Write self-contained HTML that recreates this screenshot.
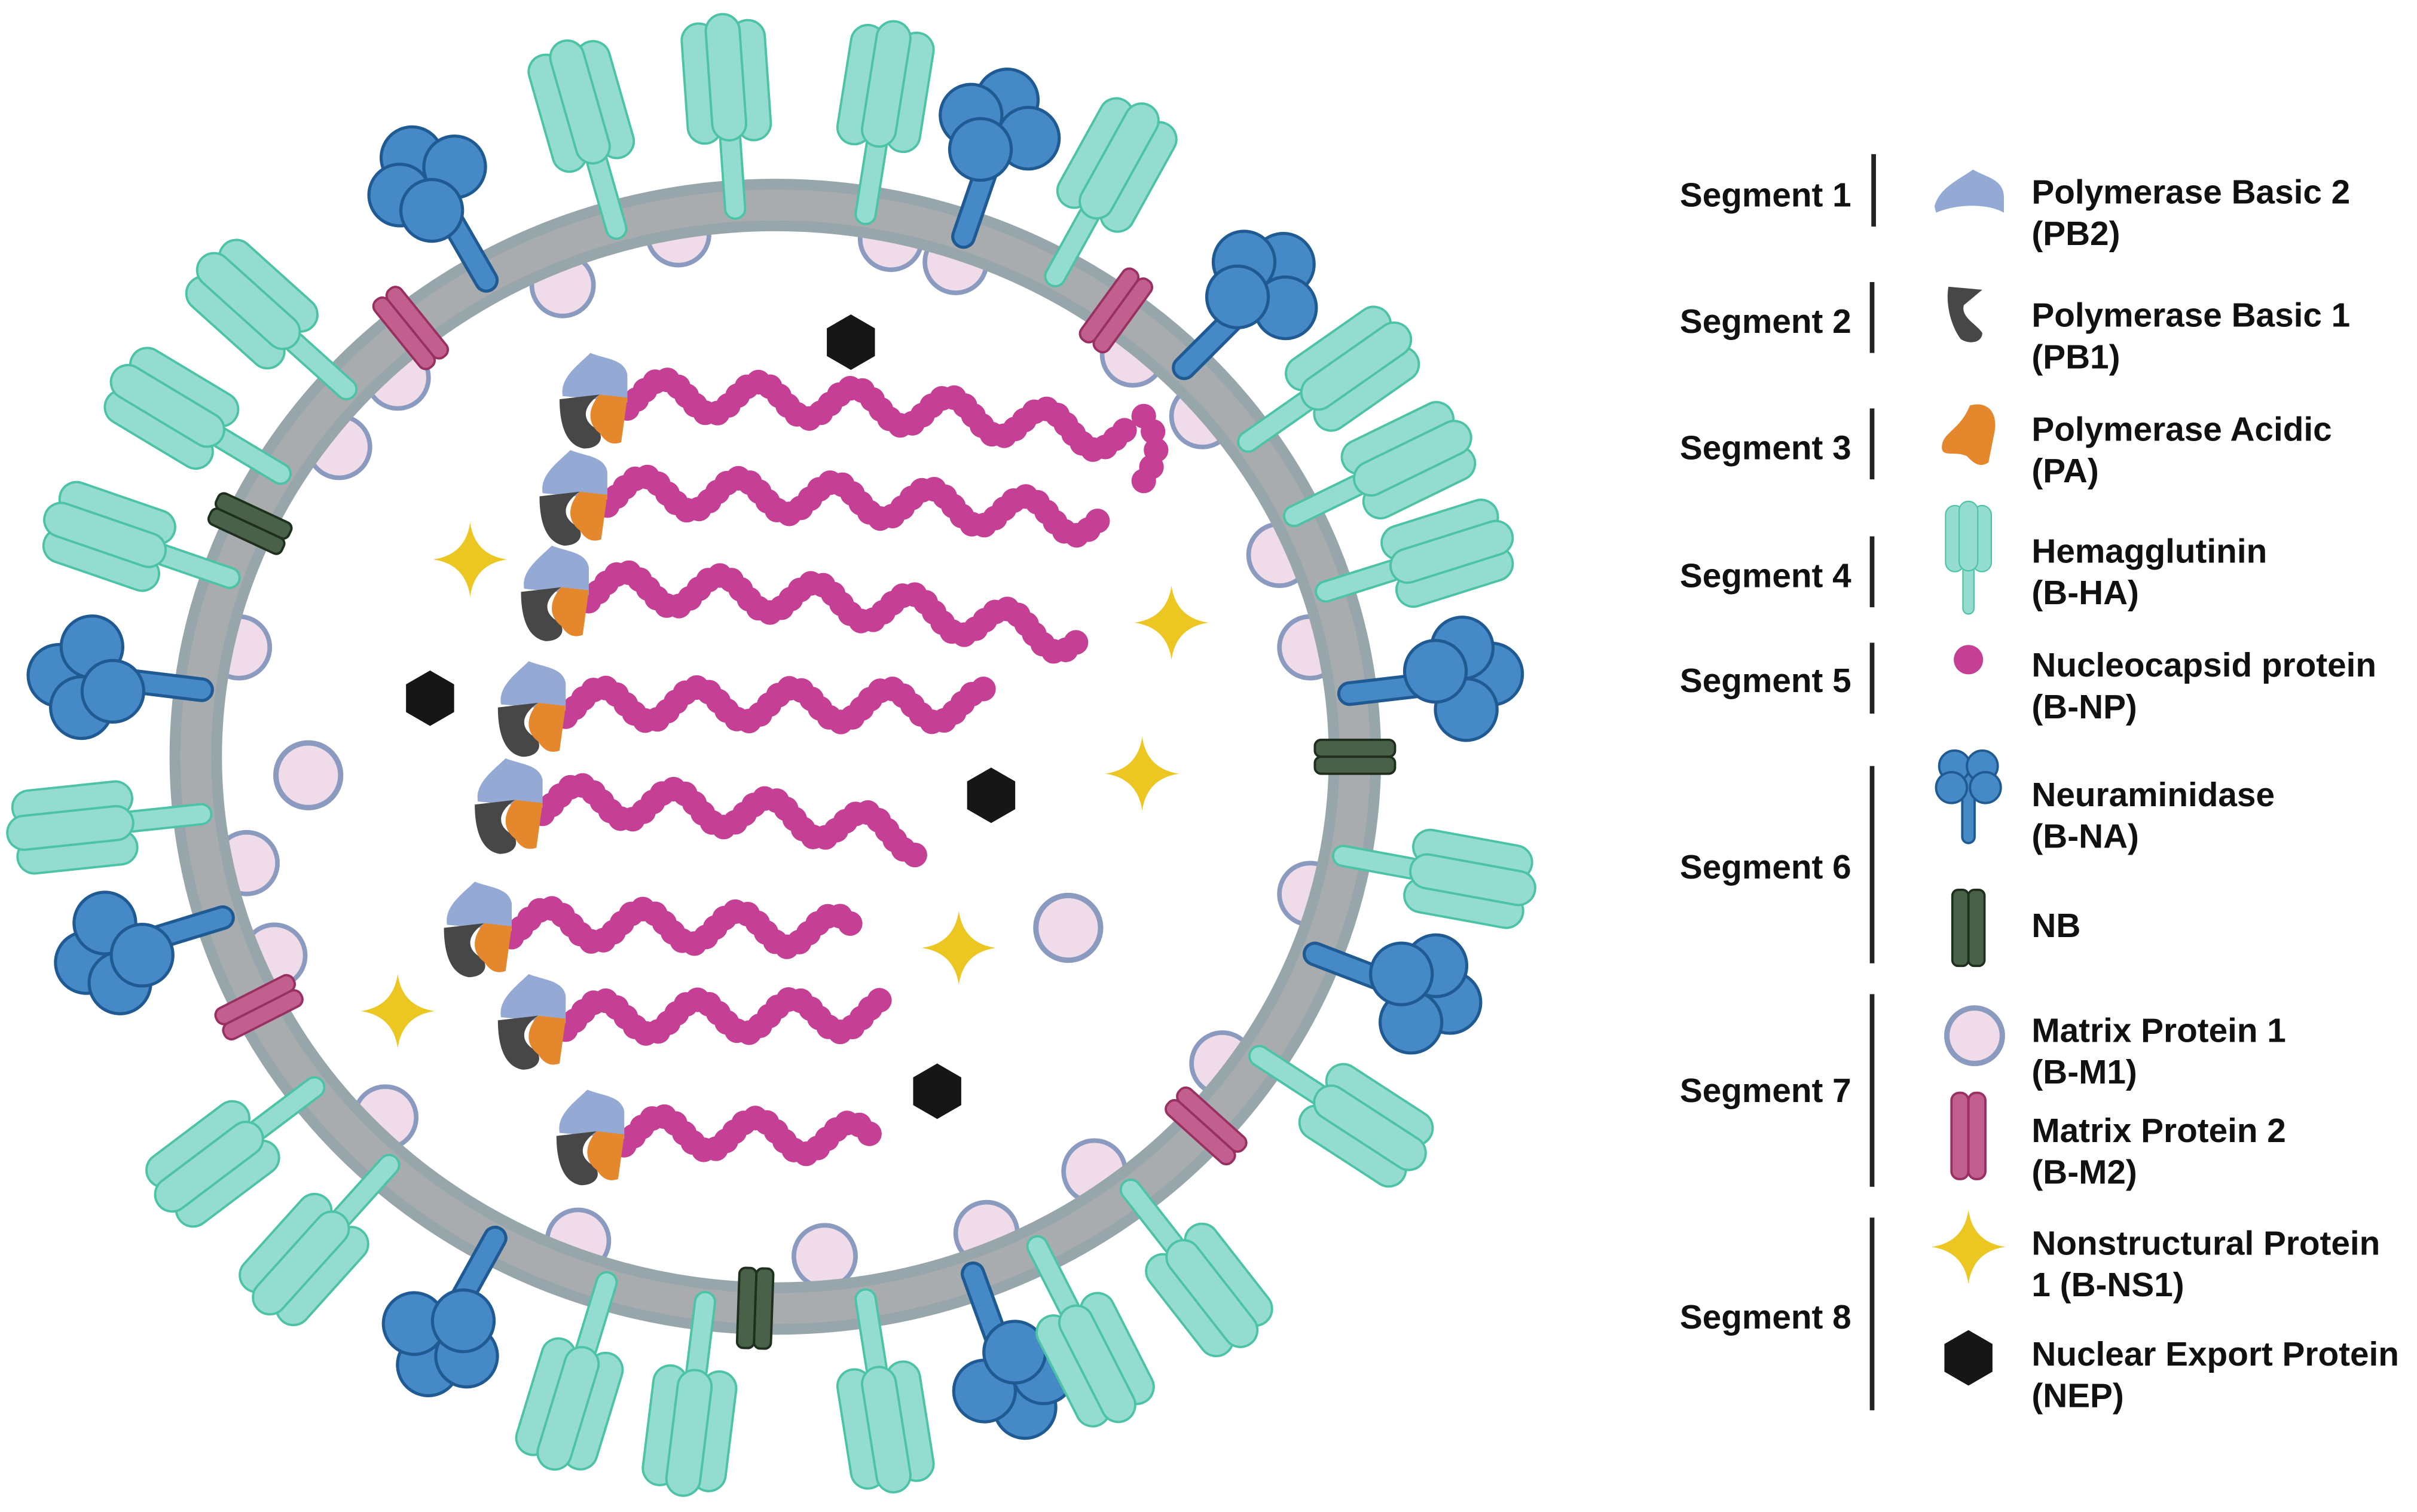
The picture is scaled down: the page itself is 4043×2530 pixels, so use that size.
<!DOCTYPE html>
<html><head><meta charset="utf-8">
<style>
html,body{margin:0;padding:0;background:#fff;}
svg{display:block;}
text{font-family:"Liberation Sans",Arial,sans-serif;font-weight:700;fill:#111;font-size:22px;}
</style></head>
<body>
<svg id="v" width="4043" height="2530" viewBox="0 0 1568 981" preserveAspectRatio="none" xmlns="http://www.w3.org/2000/svg">
<defs>
<g id="ha">
<rect x="-6.5" y="-50" width="13" height="58" rx="6.5" fill="#93dccf" stroke="#4cc3a5" stroke-width="1.5"/>
<rect x="-27" y="-120" width="22" height="78" rx="11" fill="#93dccf" stroke="#4cc3a5" stroke-width="1.5"/>
<rect x="5" y="-120" width="22" height="78" rx="11" fill="#93dccf" stroke="#4cc3a5" stroke-width="1.5"/>
<rect x="-11" y="-125" width="22" height="82" rx="11" fill="#93dccf" stroke="#4cc3a5" stroke-width="1.5"/>
</g>
<g id="na">
<rect x="-7" y="-50" width="14" height="58" rx="7" fill="#4589c6" stroke="#1f5a93" stroke-width="2"/>
<circle cx="-2" cy="-92" r="20" fill="#4589c6" stroke="#1f5a93" stroke-width="2"/>
<circle cx="-21" cy="-75" r="20" fill="#4589c6" stroke="#1f5a93" stroke-width="2"/>
<circle cx="19" cy="-73" r="20" fill="#4589c6" stroke="#1f5a93" stroke-width="2"/>
<circle cx="-8" cy="-56" r="20" fill="#4589c6" stroke="#1f5a93" stroke-width="2"/>
</g>
<g id="nal">
<rect x="-4" y="-20" width="8" height="50" rx="4" fill="#4589c6" stroke="#1f5a93" stroke-width="1.5"/>
<circle cx="-9" cy="-20" r="10" fill="#4589c6" stroke="#1f5a93" stroke-width="1.5"/>
<circle cx="9" cy="-20" r="10" fill="#4589c6" stroke="#1f5a93" stroke-width="1.5"/>
<circle cx="-11" cy="-6" r="10" fill="#4589c6" stroke="#1f5a93" stroke-width="1.5"/>
<circle cx="11" cy="-6" r="10" fill="#4589c6" stroke="#1f5a93" stroke-width="1.5"/>
</g>
<g id="m2">
<rect x="-11" y="-28" width="11" height="56" rx="5" fill="#c1608f" stroke="#9a2f62" stroke-width="1.5"/>
<rect x="0" y="-28" width="11" height="56" rx="5" fill="#c1608f" stroke="#9a2f62" stroke-width="1.5"/>
</g>
<g id="nb">
<rect x="-11" y="-26" width="11" height="52" rx="4" fill="#4a6149" stroke="#1e2f1e" stroke-width="1.5"/>
<rect x="0" y="-26" width="11" height="52" rx="4" fill="#4a6149" stroke="#1e2f1e" stroke-width="1.5"/>
</g>
<g id="cx">
<path d="M-20,-6 C-22,-18 -10,-26 -2,-34 C8,-30 20,-30 22,-20 L22,-2 Z" fill="#94a9d3"/>
<path d="M-22,-4 L4,-7 C-6,0 -8,8 0,14 C8,18 6,28 -6,28 C-18,26 -22,12 -22,-4Z" fill="#474747"/>
<path d="M4,-7 L22,-5 L18,24 C12,26 8,24 4,18 C-4,12 -4,2 4,-7Z" fill="#e5882d"/>
</g>
<path id="st" d="M0,-24 Q3,-3 24,0 Q3,3 0,24 Q-3,3 -24,0 Q-3,-3 0,-24Z" fill="#ecc621"/>
<polygon id="hx" points="0,-18 15.6,-9 15.6,9 0,18 -15.6,9 -15.6,-9" fill="#161616"/>
</defs>
<g id="m1g"></g>
<ellipse cx="503" cy="491" rx="376" ry="358" fill="none" stroke="#97a6aa" stroke-width="34"/>
<ellipse cx="503" cy="491" rx="376" ry="358" fill="none" stroke="#a9acaf" stroke-width="20"/>
<g id="sp"></g>
<g id="inner"></g>

<g>
<text x="1201" y="134" text-anchor="end">Segment 1</text>
<text x="1201" y="216" text-anchor="end">Segment 2</text>
<text x="1201" y="298" text-anchor="end">Segment 3</text>
<text x="1201" y="381" text-anchor="end">Segment 4</text>
<text x="1201" y="449" text-anchor="end">Segment 5</text>
<text x="1201" y="570" text-anchor="end">Segment 6</text>
<text x="1201" y="715" text-anchor="end">Segment 7</text>
<text x="1201" y="862" text-anchor="end">Segment 8</text>
<g fill="#222">
<rect x="1214" y="100" width="3" height="47"/>
<rect x="1213" y="183" width="3" height="46"/>
<rect x="1213" y="265" width="3" height="46"/>
<rect x="1213" y="348" width="3" height="46"/>
<rect x="1213" y="417" width="3" height="46"/>
<rect x="1213" y="497" width="3" height="128"/>
<rect x="1213" y="645" width="3" height="125"/>
<rect x="1213" y="790" width="3" height="125"/>
</g>
<text x="1318" y="132">Polymerase Basic 2</text><text x="1318" y="159">(PB2)</text>
<text x="1318" y="212">Polymerase Basic 1</text><text x="1318" y="239">(PB1)</text>
<text x="1318" y="286">Polymerase Acidic</text><text x="1318" y="313">(PA)</text>
<text x="1318" y="365">Hemagglutinin</text><text x="1318" y="392">(B-HA)</text>
<text x="1318" y="439">Nucleocapsid protein</text><text x="1318" y="466">(B-NP)</text>
<text x="1318" y="523">Neuraminidase</text><text x="1318" y="550">(B-NA)</text>
<text x="1318" y="608">NB</text>
<text x="1318" y="676">Matrix Protein 1</text><text x="1318" y="703">(B-M1)</text>
<text x="1318" y="741">Matrix Protein 2</text><text x="1318" y="768">(B-M2)</text>
<text x="1318" y="814">Nonstructural Protein</text><text x="1318" y="841">1 (B-NS1)</text>
<text x="1318" y="886">Nuclear Export Protein</text><text x="1318" y="913">(NEP)</text>
<path d="M1255,134 C1258,122 1270,117 1280,110 C1288,115 1300,116 1300,128 L1300,138 C1290,132 1270,132 1256,138Z" fill="#94a9d3"/>
<path d="M1264,186 L1286,188 L1274,198 C1272,206 1282,210 1286,216 C1286,222 1278,224 1272,220 C1266,212 1262,198 1264,186Z" fill="#474747"/>
<path d="M1278,263 C1290,260 1296,268 1294,280 L1290,300 C1284,304 1280,300 1276,296 C1268,292 1258,298 1260,288 C1262,280 1272,278 1278,263Z" fill="#e5882d"/>
<g transform="translate(1277,394) scale(0.55)"><use href="#ha"/></g>
<circle cx="1277" cy="428" r="9.5" fill="#c53f94"/>
<g transform="translate(1277,517)"><use href="#nal"/></g>
<g transform="translate(1277,602) scale(0.95,0.95)"><use href="#nb"/></g>
<circle cx="1281" cy="672" r="18" fill="#f0dbe9" stroke="#8b9bc0" stroke-width="3.5"/>
<g transform="translate(1277,737)"><use href="#m2"/></g>
<g transform="translate(1277,809)"><use href="#st"/></g>
<g transform="translate(1277,881)"><use href="#hx"/></g>
</g>
</svg>
<script>
(function(){
var cx=503,cy=491,rx=376,ry=358;
function pt(a,off){var r=a*Math.PI/180;return [cx+(rx+off)*Math.cos(r),cy+(ry+off)*Math.sin(r)];}
var s='';
function place(id,a,off){var p=pt(a,off||0);s+='<g transform="translate('+p[0].toFixed(1)+','+p[1].toFixed(1)+') rotate('+(a+90)+')"><use href="#'+id+'"/></g>';}
[-120,-71,-45,-173,163,119,70,21,-6.6].forEach(function(a){place('na',a,0);});
[-106,-94,-81,-61,-138,-149,-161,174,143,132,107,97,81,63,52,33,-35,-26,-17.5,10.4].forEach(function(a){place('ha',a,0);});
[-129,-54,153,42].forEach(function(a){place('m2',a,0);});
[-155,0,92].forEach(function(a){place('nb',a,0);});
document.getElementById('sp').innerHTML=s;
var m='';
[[365,185],[440,152],[578,155],[620,170],[735,230],[780,270],[830,360],[850,420],[850,580],[793,690],[710,760],[640,800],[535,815],[375,805],[250,725],[178,620],[160,560],[155,420],[220,290],[258,245]].forEach(function(c){
m+='<circle cx="'+c[0]+'" cy="'+c[1]+'" r="20" fill="#f0dbe9" stroke="#8b9bc0" stroke-width="3"/>';});
document.getElementById('m1g').innerHTML=m;
var t='';
[[200,503],[693,602]].forEach(function(c){t+='<circle cx="'+c[0]+'" cy="'+c[1]+'" r="21" fill="#f0dbe9" stroke="#8b9bc0" stroke-width="3.5"/>';});
var st=[[385,255,735,285],[372,318,712,338],[360,380,700,415],[345,455,640,458],[330,518,600,545],[310,598,552,605],[345,658,572,658],[383,733,565,740]];
st.forEach(function(q){
 var x0=q[0]+22,y0=q[1]+2,x1=q[2],y1=q[3];var last=null;var L=x1-x0;
 for(var x=x0;x<=x1;x+=0.5){var f=(x-x0)/L;var y=y0+(y1-y0)*f*f-11*Math.sin(2*Math.PI*(x-x0-8)/62);
  if(!last||Math.hypot(x-last[0],y-last[1])>=8){t+='<circle cx="'+x.toFixed(1)+'" cy="'+y.toFixed(1)+'" r="8" fill="#c53f94"/>';last=[x,y];}}
});
[[742,270],[748,280],[750,292],[747,303],[742,312]].forEach(function(c){t+='<circle cx="'+c[0]+'" cy="'+c[1]+'" r="8" fill="#c53f94"/>';});
st.forEach(function(q){t+='<g transform="translate('+q[0]+','+(q[1]+8)+')"><use href="#cx"/></g>';});
[[552,222],[279,453],[643,516],[608,708]].forEach(function(c){t+='<g transform="translate('+c[0]+','+c[1]+')"><use href="#hx"/></g>';});
[[305,363],[760,404],[741,502],[622,615],[258,656]].forEach(function(c){t+='<g transform="translate('+c[0]+','+c[1]+')"><use href="#st"/></g>';});
document.getElementById('inner').innerHTML=t;
})();
</script>
</body></html>
